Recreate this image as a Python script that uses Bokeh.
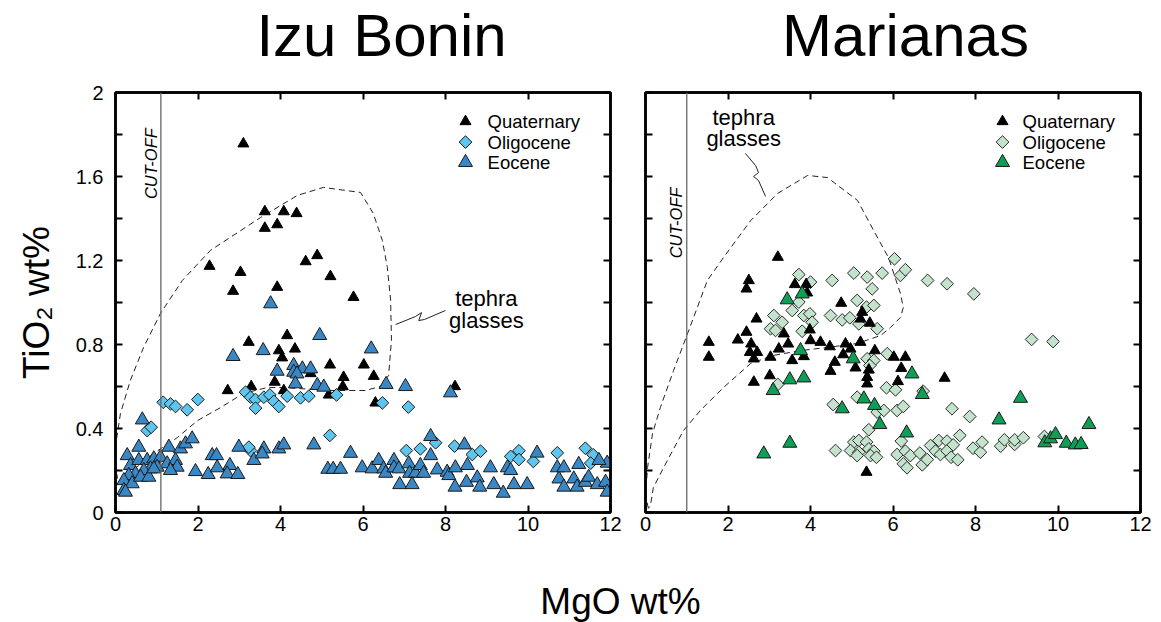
import numpy as np
from bokeh.plotting import figure
from bokeh.layouts import row, column
from bokeh.models import (Range1d, LinearAxis, FixedTicker, Span, Label, CustomLabelingPolicy)
from bokeh.embed import file_html
from bokeh.resources import INLINE

FONT = "Liberation Sans"

# ---------------- data: Izu Bonin ----------------
IB_Q_X = [3.10, 3.62, 4.08, 4.39, 3.62, 3.92, 2.28, 3.03, 4.61, 4.89, 5.21, 2.85, 3.92, 5.77,
          4.16, 3.23, 3.96, 4.35, 4.04, 5.20, 5.53, 3.86, 3.29, 2.72, 4.08, 4.73, 5.51, 5.17,
          6.02, 6.26, 6.30, 8.23]
IB_Q_Y = [1.756, 1.433, 1.433, 1.424, 1.354, 1.371, 1.173, 1.144, 1.195, 1.224, 1.124, 1.054, 1.073, 1.025,
          0.843, 0.811, 0.771, 0.779, 0.737, 0.703, 0.644, 0.621, 0.600, 0.581, 0.581, 0.662, 0.600, 0.560,
          0.703, 0.649, 0.522, 0.600]

IB_O_X = [1.156, 1.333, 1.455, 1.737, 1.996, 0.768, 0.865, 3.152, 3.273, 3.394, 3.394, 3.596, 3.741,
          3.838, 3.960, 4.162, 4.485, 4.687, 5.358, 5.196, 3.273, 3.232, 6.47, 7.10, 7.76, 7.05, 7.39,
          8.22, 8.65, 8.85, 9.58, 9.78, 9.78, 10.13, 10.71, 11.39, 11.58, 11.52]
IB_O_Y = [0.525, 0.517, 0.505, 0.489, 0.538, 0.390, 0.406, 0.573, 0.549, 0.538, 0.497, 0.549, 0.560,
          0.529, 0.505, 0.554, 0.546, 0.554, 0.560, 0.367, 0.295, 0.311, 0.522, 0.502, 0.332, 0.295, 0.303,
          0.316, 0.276, 0.292, 0.267, 0.294, 0.252, 0.243, 0.284, 0.306, 0.275, 0.235]

IB_E_X = [0.65, 3.76, 4.95, 2.85, 3.58, 3.92, 4.32, 4.53, 4.73, 4.32, 4.40, 4.36, 4.89, 5.05,
          0.283, 0.565, 0.364, 0.565, 0.768, 0.929, 1.091, 1.293, 1.576, 1.697, 1.859, 1.253, 1.455,
          1.495, 1.333, 1.010, 0.848, 0.687, 0.485, 0.323, 0.202, 0.404, 0.202, 0.242, 0.606, 0.808, 0.929,
          2.344, 2.449, 2.990, 3.354, 3.596, 3.556, 3.960, 4.081, 4.808, 5.697, 1.939, 2.247, 2.465,
          2.772, 2.707, 2.966, 5.147, 5.277, 5.455,
          6.20, 6.56, 7.03, 8.12, 7.64, 7.64, 8.46, 10.22, 11.92, 11.72, 5.98, 6.22, 6.38, 6.50, 6.55,
          6.75, 6.75, 6.87, 7.11, 7.13, 7.27, 7.39, 7.47, 7.80, 8.04, 8.08, 8.24, 6.89, 7.19, 8.23,
          8.51, 8.77, 8.83, 8.53, 9.09, 9.17, 9.40, 9.50, 9.58, 9.66, 9.98, 10.71, 10.75, 10.87, 10.87,
          11.11, 11.19, 11.23, 11.39, 11.47, 11.68, 11.88, 11.92]
IB_E_Y = [0.441, 0.994, 0.843, 0.743, 0.771, 0.673, 0.700, 0.684, 0.684, 0.668, 0.660, 0.613, 0.605, 0.597,
          0.271, 0.311, 0.224, 0.248, 0.248, 0.256, 0.263, 0.311, 0.303, 0.327, 0.351, 0.232, 0.248,
          0.216, 0.200, 0.216, 0.208, 0.200, 0.184, 0.176, 0.152, 0.137, 0.105, 0.097, 0.168, 0.168, 0.208,
          0.271, 0.271, 0.311, 0.248, 0.303, 0.279, 0.303, 0.322, 0.322, 0.282, 0.195, 0.181, 0.213,
          0.224, 0.184, 0.181, 0.206, 0.206, 0.206,
          0.779, 0.610, 0.600, 0.570, 0.362, 0.271, 0.322, 0.283, 0.235, 0.248, 0.213, 0.208, 0.248, 0.208, 0.187,
          0.248, 0.213, 0.208, 0.232, 0.187, 0.187, 0.224, 0.187, 0.203, 0.192, 0.176, 0.213, 0.133, 0.133, 0.121,
          0.144, 0.165, 0.121, 0.224, 0.213, 0.133, 0.092, 0.213, 0.200, 0.133, 0.133, 0.213, 0.160, 0.213, 0.121,
          0.160, 0.121, 0.229, 0.144, 0.168, 0.133, 0.144, 0.097]

# ---------------- data: Marianas ----------------
MA_Q_X = [3.208, 2.505, 2.448, 3.620, 3.895, 3.919,
          1.535, 1.535, 2.691, 2.448, 2.238, 2.562, 2.529, 2.707, 2.626, 2.626, 3.030, 3.014, 3.232,
          3.354, 3.459, 3.556, 3.838, 3.984, 4.000, 4.242, 4.469, 4.590, 4.485, 4.744, 4.792, 4.848,
          4.970, 5.091, 5.212, 5.212, 5.253, 5.438, 5.414, 5.560, 5.374, 5.374, 5.358,
          6.02, 6.30, 6.20, 6.12, 7.25]
MA_Q_Y = [1.216, 1.105, 1.065, 1.086, 1.086, 1.046,
          0.811, 0.740, 0.922, 0.859, 0.822, 0.803, 0.763, 0.763, 0.732, 0.621, 0.740, 0.652, 0.779,
          0.851, 0.803, 0.724, 0.743, 0.870, 0.819, 0.811, 0.790, 0.716, 0.673, 0.997, 0.752, 0.803,
          0.779, 0.689, 0.811, 0.922, 0.954, 0.902, 0.679, 0.771, 0.613, 0.644, 0.192,
          0.740, 0.740, 0.687, 0.624, 0.640]

MA_O_X = [3.717, 4.000, 4.525, 5.050, 5.374, 5.737, 5.495,
          3.717, 3.556, 3.111, 3.313, 3.030, 3.152, 3.838, 3.984, 4.040, 3.798, 4.485, 4.768, 4.953,
          5.131, 5.358, 5.535, 5.172, 5.616, 5.859, 5.374, 5.535, 5.438, 5.842, 5.131, 4.550, 5.616,
          5.778, 5.414, 5.050, 5.172, 5.358, 4.606, 4.970, 5.172, 5.414, 5.535, 5.455, 5.600, 5.131, 3.208,
          6.036, 6.18, 6.30, 6.84, 7.31, 7.96,
          9.36, 9.88, 6.06, 6.73, 6.10, 6.25, 7.43, 7.86, 6.20, 6.10, 6.30, 6.25, 6.34, 6.42, 6.65, 6.71,
          6.83, 6.91, 7.11, 7.03, 7.15, 7.31, 7.31, 7.46, 7.41, 7.57, 7.62, 7.94, 8.12, 8.16, 8.61, 8.70,
          8.95, 8.95, 9.16, 9.67]
MA_O_Y = [1.133, 1.097, 1.105, 1.140, 1.121, 1.140, 1.065,
          1.002, 0.962, 0.938, 0.906, 0.875, 0.867, 0.938, 0.946, 0.906, 0.863, 0.938, 0.917, 0.927,
          1.010, 0.978, 0.986, 0.898, 0.875, 0.756, 0.732, 0.724, 0.700, 0.594, 0.549, 0.514, 0.478,
          0.486, 0.394, 0.335, 0.343, 0.335, 0.295, 0.295, 0.287, 0.303, 0.292, 0.271, 0.263, 0.271, 0.610,
          1.208, 1.129, 1.156, 1.105, 1.089, 1.041,
          0.824, 0.814, 0.584, 0.578, 0.486, 0.505, 0.494, 0.457, 0.340, 0.276, 0.292, 0.232, 0.213, 0.271, 0.283, 0.227,
          0.252, 0.319, 0.343, 0.292, 0.276, 0.340, 0.294, 0.322, 0.263, 0.251, 0.367, 0.306, 0.287, 0.335, 0.316, 0.346,
          0.324, 0.346, 0.356, 0.362]

MA_E_X = [3.434, 3.798, 3.758, 3.499, 3.095, 3.838, 5.035, 4.768, 5.293, 5.552, 5.680, 3.499, 2.868,
          6.46, 6.71, 6.33, 8.57, 9.09, 9.68, 9.82, 9.94, 10.20, 10.42, 10.56, 10.75]
MA_E_Y = [1.013, 1.041, 0.771, 0.632, 0.581, 0.641, 0.732, 0.494, 0.541, 0.510, 0.419, 0.330, 0.279,
          0.660, 0.562, 0.379, 0.441, 0.544, 0.332, 0.351, 0.371, 0.330, 0.322, 0.324, 0.419]

# tephra-glass envelopes and leader lines
IB_ENV_X = [0.05, 0.0, 0.02, 0.12, 0.36, 0.68, 1.09, 1.62, 2.30, 3.52, 4.41, 5.04, 5.94, 6.25, 6.47,
            6.59, 6.67, 6.69, 6.62, 6.42, 6.06, 5.21, 4.07, 3.68, 3.10, 2.55, 1.99, 1.50, 0.92, 0.48,
            0.24, 0.12, 0.05]
IB_ENV_Y = [0.162, 0.214, 0.343, 0.471, 0.629, 0.786, 0.948, 1.105, 1.248, 1.405, 1.510, 1.548, 1.524,
            1.424, 1.295, 1.167, 1.010, 0.819, 0.652, 0.600, 0.581, 0.581, 0.595, 0.595, 0.567, 0.500,
            0.438, 0.357, 0.281, 0.210, 0.162, 0.148, 0.162]
MA_ENV_X = [0.07, 0.0, 0.05, 0.17, 0.36, 0.68, 1.02, 1.50, 1.89, 2.55, 3.20, 3.93, 4.41, 5.14, 5.53,
            5.89, 6.18, 6.25, 6.18, 5.94, 5.70, 5.14, 4.41, 3.76, 3.10, 2.55, 1.89, 1.33, 0.92, 0.53,
            0.19, 0.12, 0.07]
MA_ENV_Y = [0.020, 0.080, 0.214, 0.376, 0.500, 0.676, 0.852, 1.105, 1.214, 1.390, 1.519, 1.605, 1.595,
            1.486, 1.343, 1.214, 1.043, 0.976, 0.929, 0.881, 0.843, 0.805, 0.786, 0.771, 0.748, 0.710,
            0.595, 0.486, 0.390, 0.248, 0.119, 0.033, 0.020]
IB_LEAD_X = [6.79, 7.27, 7.42, 7.35, 7.49, 8.0]
IB_LEAD_Y = [0.895, 0.933, 0.952, 0.914, 0.919, 0.962]
MA_LEAD_X = [2.42, 2.67, 2.74, 2.62, 2.74, 2.91]
MA_LEAD_Y = [1.710, 1.652, 1.619, 1.600, 1.581, 1.505]

IB_CUTOFF = 1.1
MA_CUTOFF = 1.0
TITLES = ["Izu Bonin", "Marianas"]
SERIES = ["Quaternary", "Oligocene", "Eocene"]
X_TICKS = [0, 2, 4, 6, 8, 10, 12]
Y_TICKS = [0, 0.4, 0.8, 1.2, 1.6, 2.0]
Y_TICK_LABELS = ["0", "0.4", "0.8", "1.2", "1.6", "2"]
Y_MINOR = [0.2, 0.6, 1.0, 1.4, 1.8]

HIDE_LABELS = CustomLabelingPolicy(code="for (const i of Array.from(indices)) { indices.unset(i) } return indices")

TOP_H = 70      # title strip height
PANEL_H = 490   # panel height
BOT_H = 62      # x-label strip height


def hide_labels(ax):
    ax.major_label_policy = HIDE_LABELS
    ax.major_label_text_font_size = "1px"
    ax.major_label_standoff = 0


def make_panel(width, border_left, border_right, show_ylabels):
    p = figure(width=width, height=PANEL_H, x_range=Range1d(0, 12), y_range=Range1d(0, 2),
               output_backend="svg", toolbar_location=None, title=None,
               min_border_left=border_left, min_border_right=border_right,
               min_border_top=22, min_border_bottom=48)
    p.grid.visible = False
    p.outline_line_color = "black"
    p.outline_line_width = 2.5
    p.background_fill_color = "white"
    p.border_fill_color = "white"
    # mirror axes
    p.add_layout(LinearAxis(), "above")
    p.add_layout(LinearAxis(), "right")
    for ax in p.xaxis:
        ax.ticker = FixedTicker(ticks=X_TICKS)
    for ax in p.yaxis:
        ax.ticker = FixedTicker(ticks=Y_TICKS, minor_ticks=Y_MINOR)
    for ax in p.axis:
        ax.axis_line_width = 2.5
        ax.axis_line_color = "black"
        ax.major_tick_in = 7
        ax.major_tick_out = 0
        ax.minor_tick_in = 7
        ax.minor_tick_out = 0
        ax.major_tick_line_width = 2
        ax.minor_tick_line_width = 2
        ax.major_label_text_font = FONT
        ax.major_label_text_font_size = "20px"
        ax.major_label_text_color = "black"
        ax.major_label_standoff = 4
    hide_labels(p.above[0])
    hide_labels(p.right[0])
    left = p.left[0]
    left.major_label_overrides = {t: s for t, s in zip(Y_TICKS, Y_TICK_LABELS)}
    left.major_label_standoff = 12
    if not show_ylabels:
        hide_labels(left)
    return p


def add_common(p, env_x, env_y, lead_x, lead_y, cutoff, cut_x, cut_y, teph_x, teph_y1, teph_y2):
    p.add_layout(Span(location=cutoff, dimension="height", line_color="#666666", line_width=1.3))
    p.line(env_x, env_y, line_color="#222222", line_width=1, line_dash="6 4")
    p.line(lead_x, lead_y, line_color="#222222", line_width=1)
    p.add_layout(Label(x=cut_x, y=cut_y, text="CUT-OFF", angle=np.pi / 2, text_align="right",
                       text_baseline="middle", text_font=FONT, text_font_style="italic",
                       text_font_size="16.5px", text_color="black"))
    p.add_layout(Label(x=teph_x, y=teph_y1, text="tephra", text_align="center", text_baseline="middle",
                       text_font=FONT, text_font_size="22px", text_color="black"))
    p.add_layout(Label(x=teph_x, y=teph_y2, text="glasses", text_align="center", text_baseline="middle",
                       text_font=FONT, text_font_size="22px", text_color="black"))


# legend layout (positions in data units of each panel)
LEG_ROWS_Y = [1.862, 1.764, 1.667]


def add_legend(p, mx, tx, styles):
    for yy, name, st in zip(LEG_ROWS_Y, SERIES, styles):
        p.scatter([mx], [yy], **st)
        p.add_layout(Label(x=tx, y=yy, text=name, text_align="left", text_baseline="middle",
                           text_font=FONT, text_font_size="18.5px", text_color="black"))


IB_STYLES = [
    dict(marker="triangle", size=11, fill_color="black", line_color="black"),
    dict(marker="square", angle=np.pi / 4, size=9, fill_color="#5EC6EE", line_color="#1a1a1a", line_width=1),
    dict(marker="triangle", size=14, fill_color="#3A87C6", line_color="#1a1a1a", line_width=1),
]
MA_STYLES = [
    dict(marker="triangle", size=11, fill_color="black", line_color="black"),
    dict(marker="square", angle=np.pi / 4, size=9, fill_color="#C3E3CC", line_color="#2a2a2a", line_width=1),
    dict(marker="triangle", size=14, fill_color="#0E9E55", line_color="#1a1a1a", line_width=1),
]


def text_strip(height):
    s = figure(width=1161, height=height, x_range=Range1d(0, 1161), y_range=Range1d(0, height),
               output_backend="svg", toolbar_location=None, title=None, min_border=0,
               x_axis_location=None, y_axis_location=None)
    s.grid.visible = False
    s.outline_line_color = None
    return s


# ---------------- title strip (data units = pixels) ----------------
p0 = text_strip(TOP_H)
for cx, t in zip([381, 905], TITLES):
    p0.add_layout(Label(x=cx, y=TOP_H - 35, text=t, text_align="center", text_baseline="middle",
                        text_font=FONT, text_font_size="60px", text_color="black"))

# ---------------- Izu Bonin panel ----------------
p1 = make_panel(628, 115, 18, True)
p1.yaxis[0].axis_label = "TiO\u2082 wt%"
p1.yaxis[0].axis_label_text_font = FONT
p1.yaxis[0].axis_label_text_font_size = "37px"
p1.yaxis[0].axis_label_text_font_style = "normal"
p1.yaxis[0].axis_label_text_color = "black"
p1.yaxis[0].axis_label_standoff = 16
add_common(p1, IB_ENV_X, IB_ENV_Y, IB_LEAD_X, IB_LEAD_Y, IB_CUTOFF, 0.85, 1.83, 8.99, 1.019, 0.914)
p1.scatter(IB_Q_X, IB_Q_Y, **IB_STYLES[0])
p1.scatter(IB_O_X, IB_O_Y, **IB_STYLES[1])
p1.scatter(IB_E_X, IB_E_Y, **IB_STYLES[2])
add_legend(p1, 8.485, 9.02, IB_STYLES)

# ---------------- Marianas panel ----------------
p2 = make_panel(533, 17, 21, False)
add_common(p2, MA_ENV_X, MA_ENV_Y, MA_LEAD_X, MA_LEAD_Y, MA_CUTOFF, 0.73, 1.548, 2.38, 1.881, 1.781)
p2.scatter(MA_O_X, MA_O_Y, **MA_STYLES[1])
p2.scatter(MA_Q_X, MA_Q_Y, **MA_STYLES[0])
p2.scatter(MA_E_X, MA_E_Y, **MA_STYLES[2])
add_legend(p2, 8.655, 9.14, MA_STYLES)

# ---------------- shared x label strip (data units = pixels) ----------------
p3 = text_strip(BOT_H)
p3.add_layout(Label(x=620, y=BOT_H - (601 - TOP_H - PANEL_H), text="MgO wt%", text_align="center",
                    text_baseline="middle", text_font=FONT, text_font_size="37px", text_color="black"))

layout = column(p0, row(p1, p2), p3)
open("out.html", "w").write(file_html(layout, INLINE))
